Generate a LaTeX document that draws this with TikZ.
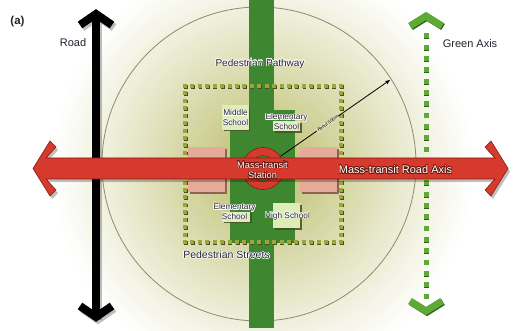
\documentclass[tikz,border=0pt]{standalone}
\usepackage{fontspec}
\setmainfont{Liberation Sans}
\usepackage[copies]{contour}
\contourlength{0.5pt}
\usetikzlibrary{arrows.meta,shadows}
\definecolor{bandgreen}{RGB}{62,135,48}
\definecolor{axred}{RGB}{214,58,44}
\definecolor{axredd}{RGB}{130,30,20}
\definecolor{pinkb}{RGB}{228,172,152}
\definecolor{pinkd}{RGB}{140,100,80}
\definecolor{schoolf}{RGB}{222,236,185}
\definecolor{schools}{RGB}{70,80,35}
\definecolor{dotol}{RGB}{155,165,60}
\definecolor{dotold}{RGB}{75,80,25}
\definecolor{axgreen}{RGB}{95,170,55}
\definecolor{axgreend}{RGB}{45,95,25}
\definecolor{ringc}{RGB}{140,140,110}
\definecolor{labtext}{RGB}{35,35,45}
\definecolor{glowin}{RGB}{185,186,100}
\begin{document}
\begin{tikzpicture}[x=1pt,y=-1pt,
  lbl/.style={font=\fontsize{11}{12}\selectfont, text=labtext, inner sep=0pt},
  schoolbox/.style={fill=schoolf, draw=none, inner sep=0pt, drop shadow={shadow xshift=1.5pt, shadow yshift=-1.5pt, fill=schools, opacity=0.85}},
  schooltxt/.style={font=\fontsize{8.3}{9.5}\selectfont, align=center, inner sep=0pt, text=labtext},
  whitetxt/.style={text=white, inner sep=0pt, align=center}]
\useasboundingbox (0,0) rectangle (519,331);
\fill[white] (0,0) rectangle (519,331);
% background glow
\begin{scope}
\clip (0,0) rectangle (519,331);
\foreach \r in {214,210,...,4}{
  \pgfmathsetmacro\t{100*(1-\r/214)^1.1}
  \fill[glowin!\t!white] (263,168) circle[radius=\r];
}
\end{scope}
% 500 m circle
\node[circle, draw=ringc, line width=0.8pt, minimum size=314pt, inner sep=0pt] (ring500) at (259,164) {};
% pedestrian pathway
\fill[bandgreen] (249,0) rectangle (274,328);
\fill[bandgreen] (230,110) rectangle (295,243);
% pink blocks
\fill[pinkd] (190,149) rectangle (227,194);
\fill[pinkb] (188,147) rectangle (225,192);
\fill[pinkd] (302,149) rectangle (339,194);
\fill[pinkb] (300,147) rectangle (337,192);
% pedestrian streets (dotted square)
\foreach \i in {0,...,21}{
  \pgfmathsetmacro\px{185+\i*156/21}
  \pgfmathsetmacro\py{86+\i*156/21}
  \foreach \cx/\cy in {\px/86, \px/242, 185/\py, 341/\py}{
    \fill[dotold] ({\cx-1.3},{\cy-1.3}) rectangle ({\cx+2.6},{\cy+2.6});
    \fill[dotol] ({\cx-2},{\cy-2}) rectangle ({\cx+2},{\cy+2});
  }
}
% schools
\node[schoolbox, minimum width=26.5pt, minimum height=25pt] (msbox) at (235.25,117.5) {};
\node[schooltxt] (ms) at (235.5,118) {\contour{white}{Middle}\\\contour{white}{School}};
\node[schoolbox, minimum width=27pt, minimum height=10pt] (esbox1) at (286.5,126.5) {};
\node[schooltxt] (es1) at (286.5,122) {\contour{white}{Elementary}\\\contour{white}{School}};
\node[schoolbox, minimum width=28pt, minimum height=10pt] (esbox2) at (236,216.5) {};
\node[schooltxt] (es2) at (234.5,212) {\contour{white}{Elementary}\\\contour{white}{School}};
\node[schoolbox, minimum width=27pt, minimum height=25pt] (hsbox) at (286.5,215.5) {};
\node[schooltxt] (hs) at (287.5,216.5) {\contour{white}{High School}};
% road (black double arrow)
\begin{scope}[shift={(2,2.5)}]
\draw[black, opacity=0.25, line width=8pt, miter limit=10] (80,25) -- (96,14) -- (112,25);
\draw[black, opacity=0.25, line width=8pt, miter limit=10] (80,306) -- (96,317) -- (112,306);
\fill[black, opacity=0.25] (92,14) rectangle (100,317);
\end{scope}
\fill[black] (92,14) rectangle (100,317);
\draw[black, line width=8pt, miter limit=10] (80,25) -- (96,14) -- (112,25);
\draw[black, line width=8pt, miter limit=10] (80,306) -- (96,317) -- (112,306);
% green axis
\draw[axgreend, line width=7pt, miter limit=10] (411,27) -- (427,17) -- (443,27);
\draw[axgreen, line width=7pt, miter limit=10] (410,26) -- (426,16) -- (442,26);
\draw[axgreend, line width=7pt, miter limit=10] (411,302) -- (427,312) -- (443,302);
\draw[axgreen, line width=7pt, miter limit=10] (410,301) -- (426,311) -- (442,301);
\foreach \i in {0,...,23}{
  \pgfmathsetmacro\q{36+\i*260/23}
  \fill[axgreend] ({426-1.8},{\q-1.8}) rectangle ({426+3.3},{\q+3.3});
  \fill[axgreen] ({426-2.5},{\q-2.5}) rectangle ({426+2.5},{\q+2.5});
}
% mass-transit station ring (behind the bar)
\node[circle, fill=axred, draw=axredd, line width=0.6pt, minimum size=42pt, inner sep=0pt] (stn) at (263,168.5) {};
\fill[bandgreen] (stn.center) circle[radius=13];
\draw[axredd, line width=0.5pt] (stn.center) circle[radius=13];
% mass-transit road axis (red double arrow)
\fill[black, opacity=0.25, shift={(2,3)}] (33,168.5) -- (50,141) -- (56,147) -- (46,158) -- (495,158) -- (485,147) -- (491,141) -- (508,168.5) -- (491,196) -- (485,190) -- (495,179) -- (46,179) -- (56,190) -- (50,196) -- cycle;
\fill[axred, draw=axredd, line width=0.6pt, line join=miter] (33,168.5) -- (50,141) -- (56,147) -- (46,158) -- (495,158) -- (485,147) -- (491,141) -- (508,168.5) -- (491,196) -- (485,190) -- (495,179) -- (46,179) -- (56,190) -- (50,196) -- cycle;
% 500 m radius arrow
\coordinate (edge500) at (390,80);
\draw[black, line width=0.8pt, -{Stealth[length=5pt,width=4pt]}] (stn) -- (edge500)
  node[pos=0.43, sloped, fill=glowin!45!white, inner sep=0.6pt, font=\fontsize{4.6}{5}\selectfont, text=black] (about) {About 500m};
% texts
\contourlength{0.7pt}
\node[whitetxt, font=\fontsize{9.3}{10.5}\selectfont] (stntxt) at (262.5,170.5) {\contour{axredd!80!black}{Mass-transit}\\\contour{axredd!80!black}{Station}};
\node[whitetxt, font=\fontsize{11}{12}\selectfont] (axistxt) at (395.5,170) {\contour{axredd!80!black}{Mass-transit Road Axis}};
\contourlength{0.5pt}
\node[lbl, font=\fontsize{10}{11}\selectfont] (pathway) at (260,64) {\contour{white}{Pedestrian Pathway}};
\node[lbl, font=\fontsize{10.5}{11}\selectfont] (streets) at (226.5,255) {\contour{white}{Pedestrian Streets}};
\node[lbl] (road) at (73,43) {Road};
\node[lbl] (gaxis) at (470,44) {Green Axis};
\node[lbl, font=\bfseries\fontsize{11.5}{12}\selectfont] (tag) at (17.5,22) {(a)};
\end{tikzpicture}
\end{document}
